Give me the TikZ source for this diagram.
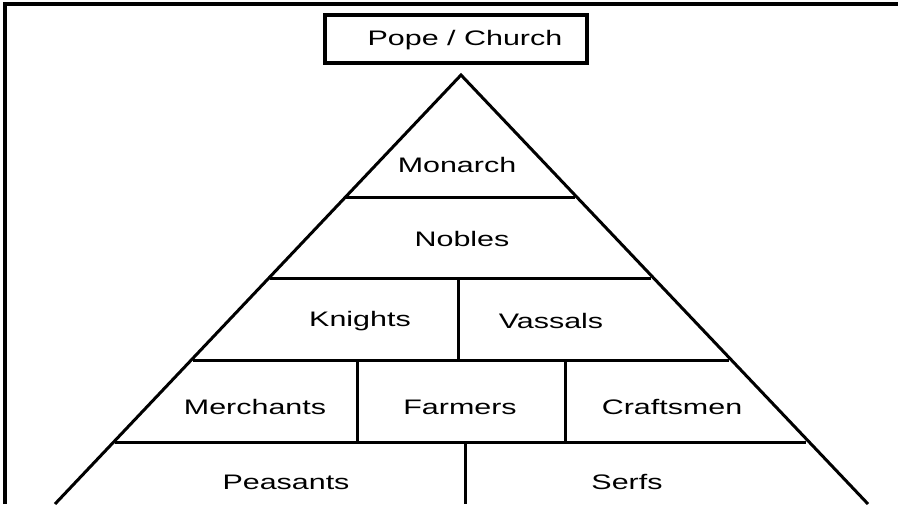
\documentclass[tikz,border=0pt]{standalone}
\usepackage{fontspec}
\setmainfont{Liberation Sans}
\begin{document}
\begin{tikzpicture}[x=1pt,y=-1pt,
  lbl/.style={font=\fontsize{21}{24}\selectfont, xscale=1.45, inner sep=0pt},
  ln/.style={line width=3pt}]
\useasboundingbox (0,0) rectangle (898,504);
\fill[white] (0,0) rectangle (898,504);
\draw[line width=3.5pt] (5,504) -- (5,4) -- (898,4);
\node[draw, line width=4pt, minimum width=262pt, minimum height=48pt, inner sep=0pt] (pope) at (456,39) {};
\node[lbl] (popet) at (465,40) {Pope / Church};
\coordinate (apex) at (461,75);
\coordinate (bl) at (55,504);
\coordinate (br) at (868,504);
\draw[ln, line join=miter] (bl) -- (apex) -- (br);
% horizontal lines
\draw[ln] (346,197) -- (575,197);
\draw[ln] (270,278) -- (651,278);
\draw[ln] (193,360) -- (729,360);
\draw[ln] (115,442) -- (806,442);
% dividers
\draw[ln] (458,278) -- (458,360);
\draw[ln] (357,360) -- (357,442);
\draw[ln] (565,360) -- (565,442);
\draw[ln] (465,442) -- (465,504);
\node[lbl] (monarch) at (457,165) {Monarch};
\node[lbl] (nobles) at (462,239) {Nobles};
\node[lbl] (knights) at (360,321) {Knights};
\node[lbl] (vassals) at (551,321) {Vassals};
\node[lbl] (merchants) at (255,407) {Merchants};
\node[lbl] (farmers) at (460,407) {Farmers};
\node[lbl] (craftsmen) at (672,407) {Craftsmen};
\node[lbl] (peasants) at (286,482) {Peasants};
\node[lbl] (serfs) at (627,482) {Serfs};
\end{tikzpicture}
\end{document}
